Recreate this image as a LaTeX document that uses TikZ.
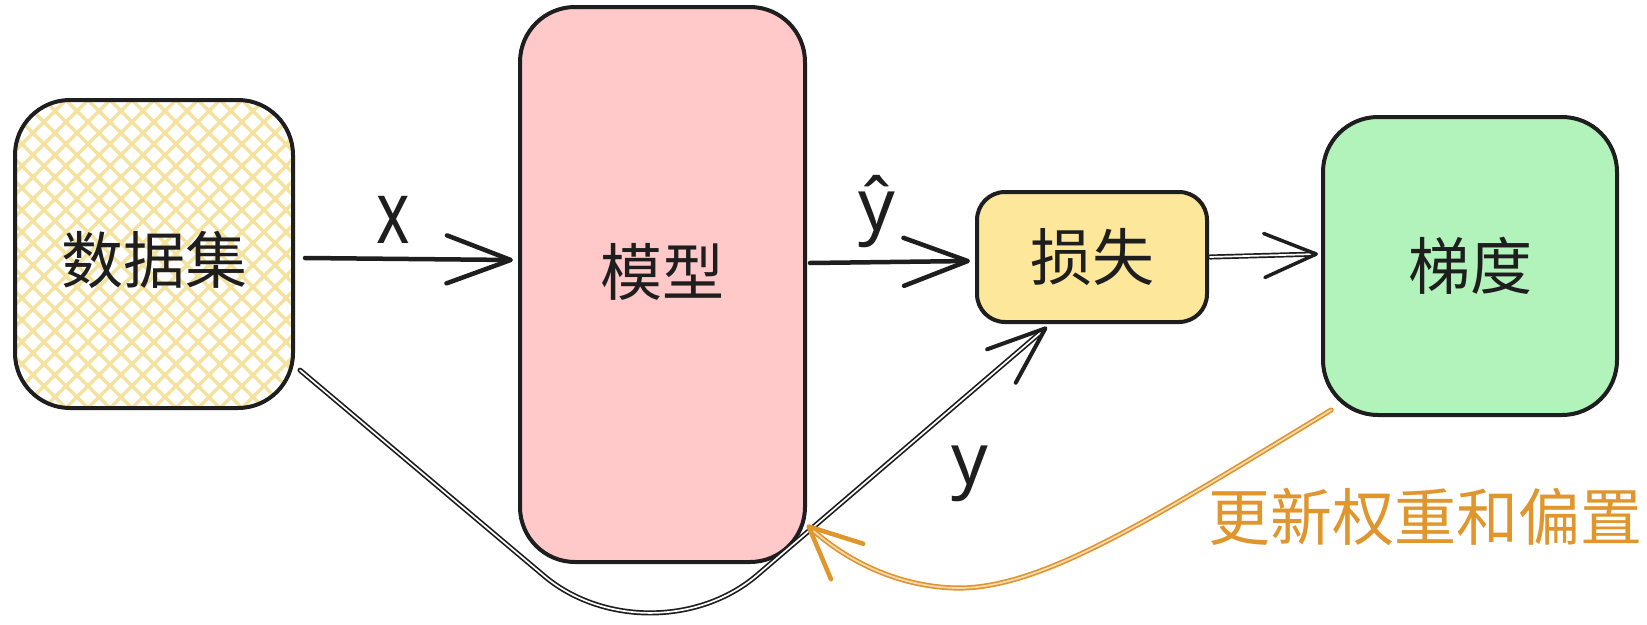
\documentclass[tikz,border=0pt]{standalone}
\usepackage{fontspec}
\usepackage{graphicx}
\setmainfont{Noto Sans CJK SC}
\newfontfamily\latfont{Noto Sans}
\usetikzlibrary{arrows.meta,calc}
\definecolor{ink}{HTML}{1E1E1E}
\definecolor{modelpink}{HTML}{FFC9C9}
\definecolor{lossyellow}{HTML}{FDE79A}
\definecolor{gradgreen}{HTML}{B2F2BB}
\definecolor{hatchyellow}{HTML}{F5E29E}
\definecolor{updorange}{HTML}{E0962C}
\begin{document}
\begin{tikzpicture}[x=1pt,y=-1pt,
  box/.style={draw=ink, line width=4pt, rounded corners=#1, inner sep=0pt},
  cjk/.style={font=\fontsize{62}{62}\selectfont, text=ink, inner sep=0pt},
  lbl/.style={font=\latfont\fontsize{72}{72}\selectfont, text=ink, inner sep=0pt},
  thickarrow/.style={draw=ink, line width=4.5pt, line cap=round, line join=round},
  thindouble/.style={draw=#1, line width=1.7pt, double distance=1.7pt, line cap=round, line join=round},
  hatchline/.style={draw=hatchyellow, line width=3.5pt}]
\fill[white] (0,0) rectangle (1647,624);
\useasboundingbox (0,0) rectangle (1647,624);

% nodes
\node[box=55pt, minimum width=278pt, minimum height=308pt,
  path picture={
    \begin{scope}[shift={(path picture bounding box.center)}]
      \foreach \i in {-330,-308,...,330} {
        \draw[hatchline] (\i-170,-170) -- (\i+170,170);
        \draw[hatchline] (\i-170,170) -- (\i+170,-170);
      }
    \end{scope}},
  label={[cjk, yshift=-6pt]center:数据集}] (data) at (154,254) {};
\node[box=55pt, fill=modelpink, minimum width=285pt, minimum height=555pt,
  label={[cjk, yshift=13pt]center:模型}] (model) at (662.5,284.5) {};
\node[box=28pt, fill=lossyellow, minimum width=230pt, minimum height=130pt, cjk] (loss) at (1092,257) {损失};
\node[box=55pt, fill=gradgreen, minimum width=294pt, minimum height=298pt, cjk] (grad) at (1470,266) {梯度};

% helper coordinates
\coordinate (ybend) at (651,666);
\coordinate (obot) at (955,588);

% straight arrows
\draw[thickarrow, -{Straight Barb[length=64pt,width=48pt,round]}]
  ($(data.east)+(10,4)$) -- ($(data.east -| model.west)+(-5,6)$);
\draw[thickarrow, -{Straight Barb[length=64pt,width=48pt,round]}]
  ($(model.east |- loss.west)+(3,6)$) -- ($(loss.west)+(-5,4)$);
\draw[thindouble=ink, double=white, -{Straight Barb[length=52pt,width=44pt,round,line width=3.5pt]}]
  ($(loss.east)+(1,0)$) -- ($(loss.east -| grad.west)+(-3,-3)$);

% curved arrows
\draw[thindouble=ink, double=white, rounded corners=140pt, -{Straight Barb[length=58pt,width=44pt,round,line width=4pt]}]
  ($(data.-38)+(5,6)$) -- (ybend) -- ($(loss.south)+(-45,3)$);
\draw[thindouble=updorange, double=updorange!35, -{Straight Barb[length=52pt,width=48pt,round,line width=4.5pt]}]
  ($(grad.-134)+(7,-7)$) .. controls (1150,520) and (1040,590) .. (obot)
  .. controls (890,586) and (840,555) .. (model.-59);

% labels
\node[lbl, font=\latfont\fontsize{88}{88}\selectfont] (xl) at (393,220) {\scalebox{0.72}[1]{x}};
\node[lbl] (yhat) at (877,212) {ŷ};
\node[lbl] (yl) at (970,474) {y};
\node[cjk, text=updorange] (upd) at (1425,517) {更新权重和偏置};
\end{tikzpicture}
\end{document}
